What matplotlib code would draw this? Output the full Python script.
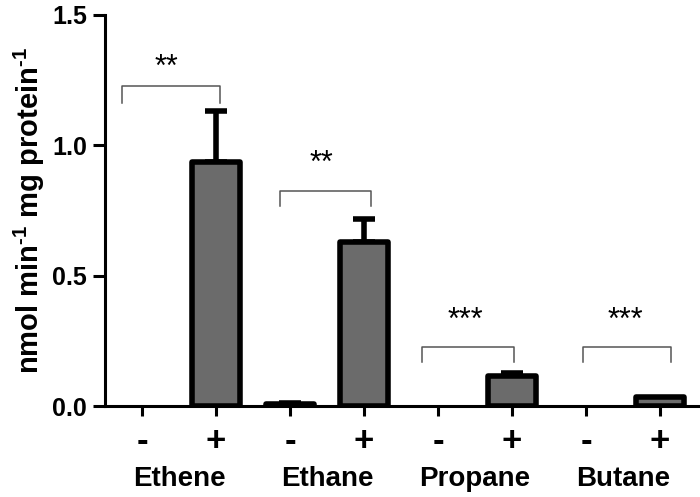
import numpy as np
import matplotlib as mpl
mpl.use('Agg')
import matplotlib.pyplot as plt
from matplotlib.transforms import blended_transform_factory

plt.rcParams['font.family'] = ['Liberation Sans', 'DejaVu Sans']
plt.rcParams['mathtext.fontset'] = 'custom'
plt.rcParams['mathtext.rm'] = 'Liberation Sans:bold'
plt.rcParams['mathtext.bf'] = 'Liberation Sans:bold'

# data
gases = ['Ethene', 'Ethane', 'Propane', 'Butane']
treat = ['-', '+', '-', '+', '-', '+', '-', '+']
values = [0.0, 0.935, 0.006, 0.629, 0.0, 0.114, 0.0, 0.035]
errors = [0.0, 0.196, 0.006, 0.090, 0.0, 0.012, 0.0, 0.0]
stars = ['**', '**', '***', '***']
# bracket: x0, x1, y bottom, y top ; star position x, y
brackets = [(-0.27, 1.05, 1.162, 1.226), (1.86, 3.09, 0.769, 0.826),
            (3.78, 5.03, 0.169, 0.225), (5.96, 7.15, 0.169, 0.225)]
star_pos = [(0.33, 1.295), (2.43, 0.928), (4.37, 0.328), (6.53, 0.328)]

fig = plt.figure(figsize=(7, 4.97), dpi=100)
ax = fig.add_axes([0.15, 0.183, 0.85, 0.787])

x = np.arange(len(values))
lws = [0 if v == 0 else 4 for v in values]
ax.bar(x, values, width=0.64, color='#6b6b6b', edgecolor='black',
       linewidth=lws, joinstyle='round', zorder=2)
has_err = [i for i, e in enumerate(errors) if e > 0]
ax.errorbar(x[has_err], [values[i] for i in has_err],
            yerr=[np.zeros(len(has_err)), [errors[i] for i in has_err]],
            fmt='none', ecolor='black', elinewidth=4, capsize=8, capthick=4,
            zorder=1)

for (x0, x1, yb, yt), s, (sx, sy) in zip(brackets, stars, star_pos):
    ax.plot([x0, x0, x1, x1], [yb, yt, yt, yb], color='#555555', lw=1.1)
    ax.text(sx, sy, s, ha='center', va='center', fontsize=22)

ax.set_xlim(-0.5, 7.54)
ax.set_ylim(0, 1.5)
ax.set_yticks([0, 0.5, 1.0, 1.5])
ax.set_yticklabels(['0.0', '0.5', '1.0', '1.5'], fontsize=18, fontweight='bold')
ax.set_xticks(x)
ax.set_xticklabels(treat, fontsize=25, fontweight='bold')
ax.tick_params(axis='both', width=2.2, length=8, direction='out')
ax.tick_params(axis='x', length=7, pad=7)
ax.tick_params(axis='y', length=9, pad=4)

for sp in ['top', 'right']:
    ax.spines[sp].set_visible(False)
for sp in ['left', 'bottom']:
    ax.spines[sp].set_linewidth(2.2)

ax.set_ylabel('nmol min$^{\\text{-1}}$ mg protein$^{\\text{-1}}$',
              fontsize=21, fontweight='bold', labelpad=4)

tr = blended_transform_factory(ax.transData, fig.transFigure)
for i, g in enumerate(gases):
    ax.text(2 * i + 0.5, 0.036, g, transform=tr, ha='center', va='center',
            fontsize=20, fontweight='bold')

plt.savefig('out.png', dpi=100)
